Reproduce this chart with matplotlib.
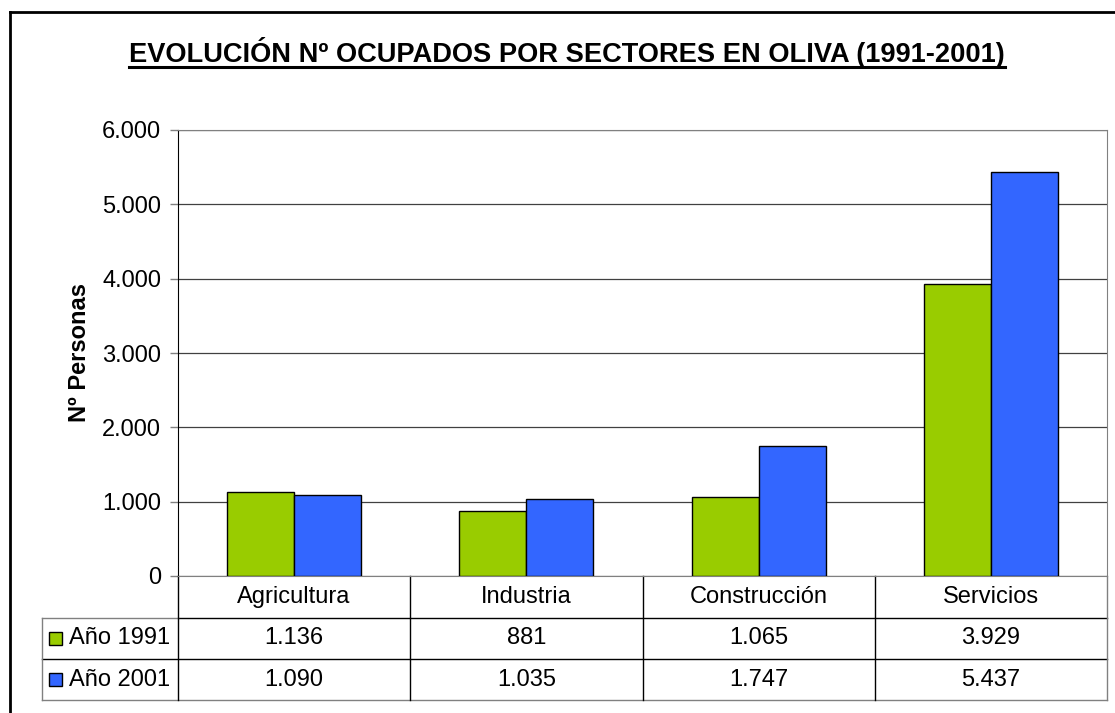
import numpy as np
import matplotlib.pyplot as plt
from matplotlib.lines import Line2D
from matplotlib.patches import Rectangle
import matplotlib.transforms as mtransforms

plt.rcParams['font.family'] = ['Liberation Sans', 'DejaVu Sans']

sectores = ['Agricultura', 'Industria', 'Construcción', 'Servicios']
anio_1991 = [1136, 881, 1065, 3929]
anio_2001 = [1090, 1035, 1747, 5437]
series = ['Año 1991', 'Año 2001']
colores = ['#99CC00', '#3366FF']

def fmt(v):
    return f'{v:,}'.replace(',', '.')

W, H = 1115, 713
fig = plt.figure(figsize=(W/100, H/100), dpi=100)

# plot area (pixel positions)
x0, x1, ytop, ybot = 178, 1107, 130, 576
ax = fig.add_axes([x0/W, (H-ybot)/H, (x1-x0)/W, (ybot-ytop)/H])

fs = 17
x = np.arange(len(sectores))
bw = 0.288
ax.bar(x - bw/2, anio_1991, bw, color=colores[0], edgecolor='black', linewidth=1, zorder=3)
ax.bar(x + bw/2, anio_2001, bw, color=colores[1], edgecolor='black', linewidth=1, zorder=3)

ax.set_xlim(-0.5, len(sectores) - 0.5)
ax.set_ylim(0, 6000)
ax.set_yticks(np.arange(0, 6001, 1000))
ax.set_yticklabels([fmt(v) for v in range(0, 6001, 1000)], fontsize=fs)
ax.set_xticks([])
ax.yaxis.grid(True, color='#404040', linewidth=0.9)
ax.set_axisbelow(True)
ax.tick_params(axis='y', length=6, width=1, color='#808080', pad=6)
for s in ['top', 'right']:
    ax.spines[s].set_color('#808080')
ax.spines['left'].set_color('black')
ax.spines['bottom'].set_color('#808080')
ax.set_ylabel('Nº Personas', fontsize=17, fontweight='bold', labelpad=8)

# data table below the axis
tr = mtransforms.blended_transform_factory(ax.transData, ax.transAxes)
ppu = ybot - ytop
r0, r1, r2, r3 = 0, -42/ppu, -83/ppu, -124/ppu
xl = -0.5 - (x0 - 42) / ((x1 - x0) / len(sectores))
xr = len(sectores) - 0.5

def seg(xa, xb, ya, yb, c='black', lw=1):
    ax.add_line(Line2D([xa, xb], [ya, yb], transform=tr, color=c, lw=lw, clip_on=False))

seg(-0.5, xr, r1, r1)
seg(xl, -0.5, r1, r1, c='#808080')
seg(xl, xr, r2, r2)
seg(xl, xr, r3, r3, c='#808080')
seg(xl, xl, r1, r3, c='#808080')
seg(xr, xr, r0, r3, c='#808080')
for b in np.arange(-0.5, len(sectores) - 0.5, 1.0):
    seg(b, b, r0, r3)

for i, s in enumerate(sectores):
    ax.text(i, (r0 + r1)/2, s, transform=tr, ha='center', va='center', fontsize=fs)
    ax.text(i, (r1 + r2)/2, fmt(anio_1991[i]), transform=tr, ha='center', va='center', fontsize=fs)
    ax.text(i, (r2 + r3)/2, fmt(anio_2001[i]), transform=tr, ha='center', va='center', fontsize=fs)

pux = (x1 - x0) / len(sectores)
for j, (lab, c) in enumerate(zip(series, colores)):
    ya, yb = [(r1, r2), (r2, r3)][j]
    yc = (ya + yb) / 2
    ax.add_patch(Rectangle((xl + 7/pux, yc - 6.5/ppu), 13/pux, 13/ppu, transform=tr,
                           facecolor=c, edgecolor='black', lw=1, clip_on=False))
    ax.text(xl + 27/pux, yc, lab, transform=tr, ha='left', va='center', fontsize=fs)

# title with underline
t = fig.text(567/W, 1 - 53/H, 'EVOLUCIÓN Nº OCUPADOS POR SECTORES EN OLIVA (1991-2001)',
             ha='center', va='center', fontsize=19.6, fontweight='bold')
fig.canvas.draw()
bb = t.get_window_extent()
uy = (H - 67) / H
fig.add_artist(Line2D([bb.x0/W, bb.x1/W], [uy, uy], color='black', lw=2.2))

# outer chart frame (cut at right and bottom)
fig.add_artist(Line2D([10/W, 1], [1 - 12/H, 1 - 12/H], color='black', lw=2))
fig.add_artist(Line2D([10/W, 10/W], [0, 1 - 12/H], color='black', lw=2))

fig.savefig('out.png', dpi=100)
